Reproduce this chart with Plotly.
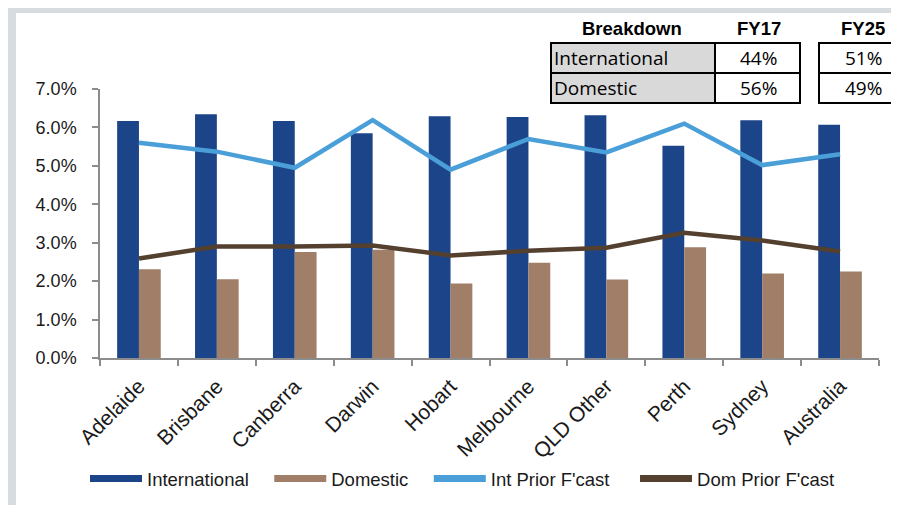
import plotly.graph_objects as go

# ---------------- data ----------------
cities = ["Adelaide", "Brisbane", "Canberra", "Darwin", "Hobart",
          "Melbourne", "QLD Other", "Perth", "Sydney", "Australia"]
international = [6.17, 6.34, 6.17, 5.85, 6.29, 6.27, 6.32, 5.52, 6.19, 6.07]
domestic = [2.31, 2.05, 2.76, 2.82, 1.94, 2.48, 2.04, 2.88, 2.20, 2.25]
int_prior = [5.60, 5.37, 4.95, 6.19, 4.90, 5.70, 5.35, 6.10, 5.02, 5.30]
dom_prior = [2.59, 2.90, 2.90, 2.93, 2.67, 2.79, 2.87, 3.26, 3.06, 2.77]

y_ticks = [0, 1, 2, 3, 4, 5, 6, 7]

table_header = ["Breakdown", "FY17", "FY25"]
table_rows = ["International", "Domestic"]
fy17_share = ["44%", "56%"]
fy25_share = ["51%", "49%"]

# ---------------- style ----------------
C_INT = "#1c4489"
C_DOM = "#a07e68"
C_INTL = "#4a9fd9"
C_DOML = "#54402f"
W, H = 899, 505
OFF = 8  # page body margin
# plot area in page pixels: x 100..879, y 89..358
L = 100 - OFF
T = 89 - OFF
R = W - (879 - OFF)
B = H - (358 - OFF)
PW, PH = W - L - R, H - T - B


def px(x):
    return (x - OFF - L) / PW


def py(y):
    return (H - B - (y - OFF)) / PH


NB = "\u00a0"

fig = go.Figure()
fig.add_trace(go.Bar(x=cities, y=international, marker_color=C_INT,
                     marker_line_width=0, showlegend=False, name="International"))
fig.add_trace(go.Bar(x=cities, y=domestic, marker_color=C_DOM,
                     marker_line_width=0, showlegend=False, name="Domestic"))
fig.add_trace(go.Scatter(x=cities, y=int_prior, mode="lines",
                         line=dict(color=C_INTL, width=4.5), showlegend=False))
fig.add_trace(go.Scatter(x=cities, y=dom_prior, mode="lines",
                         line=dict(color=C_DOML, width=4.5), showlegend=False))

# legend entries (wide swatches)
for nm, col, pad in [("International", C_INT, 3), ("Domestic", C_DOM, 3),
                     ("Int Prior F'cast", C_INTL, 4), ("Dom Prior F'cast", C_DOML, 3)]:
    fig.add_trace(go.Scatter(x=[None], y=[None], mode="lines", name=nm + NB * pad,
                             line=dict(color=col, width=7)))

shapes = []
annotations = []
# gray frame strips
shapes.append(dict(type="rect", xref="paper", yref="paper",
                   x0=px(7), x1=px(16), y0=py(7), y1=py(520),
                   fillcolor="#d6dce0", line_width=0))
shapes.append(dict(type="rect", xref="paper", yref="paper",
                   x0=px(7), x1=px(910), y0=py(7), y1=py(13),
                   fillcolor="#d6dce0", line_width=0))

# table
row_y = [(43, 73), (73, 103)]
for i, (y0, y1) in enumerate(row_y):
    shapes.append(dict(type="rect", xref="paper", yref="paper",
                       x0=px(551), x1=px(715), y0=py(y1), y1=py(y0),
                       fillcolor="#d9d9d9", line=dict(color="#000", width=2)))
    shapes.append(dict(type="rect", xref="paper", yref="paper",
                       x0=px(715), x1=px(800), y0=py(y1), y1=py(y0),
                       fillcolor="white", line=dict(color="#000", width=2)))
    shapes.append(dict(type="rect", xref="paper", yref="paper",
                       x0=px(819), x1=px(905), y0=py(y1), y1=py(y0),
                       fillcolor="white", line=dict(color="#000", width=2)))
    ym = py((y0 + y1) / 2)
    annotations.append(dict(xref="paper", yref="paper", x=px(552), y=ym,
                            xanchor="left", yanchor="middle", showarrow=False,
                            text=table_rows[i],
                            font=dict(family="Open Sans", size=19, color="#000")))
    annotations.append(dict(xref="paper", yref="paper", x=px(758), y=ym,
                            xanchor="center", yanchor="middle", showarrow=False,
                            text=fy17_share[i],
                            font=dict(family="Open Sans", size=19, color="#000")))
    annotations.append(dict(xref="paper", yref="paper", x=px(863), y=ym,
                            xanchor="center", yanchor="middle", showarrow=False,
                            text=fy25_share[i],
                            font=dict(family="Open Sans", size=19, color="#000")))
for txt, xc in zip(table_header, [632, 759, 863]):
    annotations.append(dict(xref="paper", yref="paper", x=px(xc), y=py(29),
                            xanchor="center", yanchor="middle", showarrow=False,
                            text="<b>%s</b>" % txt,
                            font=dict(family="Liberation Sans", size=18.5, color="#000")))

fig.update_layout(
    width=W, height=H,
    margin=dict(l=L, r=R, t=T, b=B, pad=0, autoexpand=False),
    paper_bgcolor="white", plot_bgcolor="white",
    barmode="group", bargap=0.44, bargroupgap=0,
    font=dict(family="Liberation Sans", size=17, color="#1a1a1a"),
    shapes=shapes, annotations=annotations,
    legend=dict(orientation="h", x=px(85), xanchor="left",
                y=py(479), yanchor="middle", itemwidth=52,
                font=dict(family="Liberation Sans", size=18.5, color="#1a1a1a"),
                bgcolor="rgba(0,0,0,0)"),
)
fig.update_xaxes(showline=True, linecolor="#8c8c8c", linewidth=1.5,
                 ticks="outside", tickson="boundaries", ticklen=6,
                 tickcolor="#8c8c8c", tickwidth=1.5, tickangle=-45,
                 showgrid=False, zeroline=False, automargin=False,
                 ticklabelstandoff=6,
                 tickfont=dict(family="Liberation Sans", size=21))
fig.update_yaxes(range=[0, 7], tickvals=y_ticks,
                 ticktext=["%.1f%%" % v for v in y_ticks],
                 showline=True, linecolor="#8c8c8c", linewidth=1.5,
                 ticks="outside", ticklen=6, tickcolor="#8c8c8c", tickwidth=1.5,
                 showgrid=False, zeroline=False, ticklabelstandoff=12,
                 automargin=False,
                 tickfont=dict(family="Liberation Sans", size=18))

fig.write_html("out.html")
